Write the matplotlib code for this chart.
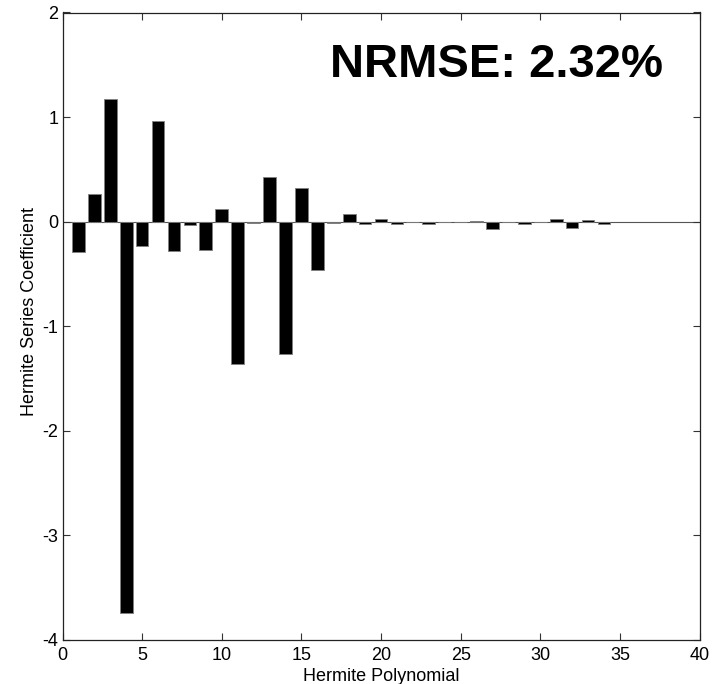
import matplotlib
matplotlib.use("Agg")
import matplotlib.pyplot as plt
import numpy as np

polynomial_index = list(range(1, 35))
coefficients = [
    -0.29, 0.26, 1.17, -3.74, -0.23, 0.965, -0.285, -0.03, -0.27, 0.12,
    -1.36, -0.01, 0.43, -1.27, 0.32, -0.465, -0.01, 0.07, -0.02, 0.03,
    -0.02, 0.0, -0.02, 0.0, 0.0, 0.01, -0.07, 0.0, -0.02, 0.0,
    0.03, -0.06, 0.02, -0.02,
]
x_ticks = [0, 5, 10, 15, 20, 25, 30, 35, 40]
y_ticks = [-4, -3, -2, -1, 0, 1, 2]
annotation = "NRMSE: 2.32%"

plt.rcParams['font.family'] = ['Liberation Sans', 'DejaVu Sans']
plt.rcParams['axes.unicode_minus'] = False

fig = plt.figure(figsize=(7.21, 6.84), dpi=100)
ax = fig.add_axes([62.5 / 721, 1 - 640 / 684, (699.5 - 62.5) / 721, (640 - 12.5) / 684])

ax.bar(polynomial_index, coefficients, width=0.8, color='black', edgecolor='#808080', linewidth=0.6)
ax.axhline(0, color='#555555', linewidth=0.8, zorder=0)

ax.set_xlim(0, 40)
ax.set_ylim(-4, 2)
ax.set_xticks(x_ticks)
ax.set_yticks(y_ticks)
ax.tick_params(direction='in', length=5, width=0.8, top=True, right=True, labelsize=13,
               color='#333333')
ax.tick_params(axis='x', pad=5)
ax.tick_params(axis='y', pad=3)
for s in ax.spines.values():
    s.set_linewidth(0.9)
    s.set_color('#222222')

ax.set_xlabel('Hermite Polynomial', fontsize=13, labelpad=3)
ax.set_ylabel('Hermite Series Coefficient', fontsize=13, labelpad=3)
ax.yaxis.label.set_y(0.523)

ax.text(0.943, 0.916, annotation, transform=ax.transAxes, ha='right', va='center',
        fontsize=34, fontweight='bold')

fig.savefig('out.png', dpi=100)
